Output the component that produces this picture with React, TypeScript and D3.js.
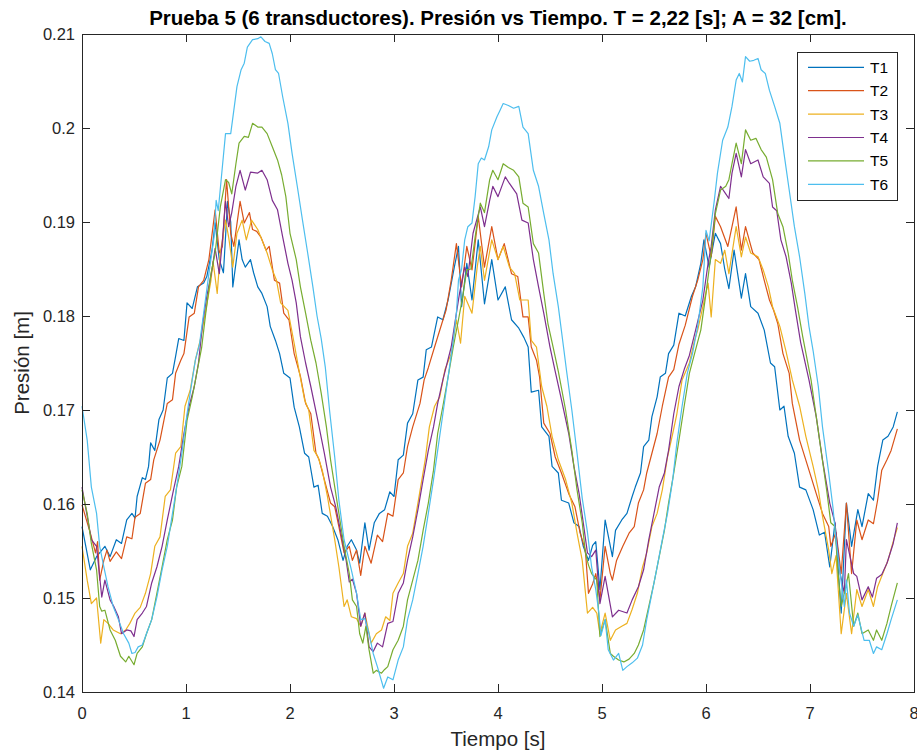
import React from "react";
import * as d3 from "d3";

// Pressure readings (m) from six transducers, sampled as [time (s), pressure (m)]
const T1: [number, number][] = [
  [0,0.1576],[0.08,0.153],[0.14,0.1544],[0.22,0.1555],[0.27,0.1544],[0.33,0.1562],[0.38,0.1558],[0.43,0.1583],[0.48,0.159],[0.51,0.1585],[0.53,0.1608],[0.58,0.1628],[0.61,0.1626],[0.64,0.164],[0.66,0.1665],[0.70,0.1657],[0.74,0.169],[0.78,0.170],[0.82,0.1734],[0.87,0.1739],[0.90,0.1757],[0.93,0.1776],[0.98,0.1774],[1.01,0.1814],[1.06,0.1808],[1.11,0.1831],[1.17,0.1835],[1.20,0.1842],[1.25,0.187],[1.28,0.1899],[1.32,0.186],[1.36,0.1846],[1.40,0.1922],[1.43,0.190],[1.45,0.1831],[1.48,0.1856],[1.51,0.1881],[1.54,0.186],[1.57,0.1852],[1.62,0.186],[1.65,0.1846],[1.69,0.1831],[1.73,0.1824],[1.78,0.181],[1.81,0.1789],[1.86,0.1774],[1.90,0.176],[1.94,0.1739],[2.0,0.1734],[2.04,0.1703],[2.09,0.1682],[2.14,0.1654],[2.18,0.165],[2.23,0.1618],[2.27,0.1620],[2.31,0.159],[2.36,0.1587],[2.41,0.1576],[2.46,0.1562],[2.51,0.154],[2.55,0.1555],[2.59,0.1562],[2.64,0.1551],[2.67,0.1537],[2.72,0.158],[2.76,0.1551],[2.81,0.158],[2.86,0.159],[2.91,0.1594],[2.96,0.1613],[3.0,0.1608],[3.04,0.1647],[3.09,0.1652],[3.13,0.1686],[3.18,0.1696],[3.23,0.1732],[3.28,0.1735],[3.31,0.1764],[3.36,0.1767],[3.42,0.1799],[3.47,0.1796],[3.52,0.1817],[3.58,0.1852],[3.62,0.1874],[3.65,0.181],[3.70,0.1856],[3.75,0.1817],[3.81,0.1881],[3.87,0.1813],[3.94,0.186],[4.0,0.1817],[4.07,0.1831],[4.13,0.1796],[4.20,0.1787],[4.25,0.1777],[4.29,0.1767],[4.32,0.1719],[4.39,0.1721],[4.42,0.1682],[4.49,0.1672],[4.52,0.164],[4.58,0.1633],[4.61,0.1604],[4.68,0.1601],[4.73,0.158],[4.78,0.1576],[4.82,0.1555],[4.87,0.154],[4.91,0.1556],[4.94,0.156],[4.98,0.1509],[5.03,0.1583],[5.1,0.1544],[5.13,0.1572],[5.19,0.1583],[5.24,0.159],[5.29,0.1608],[5.32,0.1618],[5.37,0.1633],[5.40,0.1661],[5.45,0.1668],[5.48,0.1693],[5.53,0.1714],[5.56,0.1735],[5.61,0.1739],[5.64,0.176],[5.69,0.1769],[5.74,0.1803],[5.80,0.1800],[5.86,0.1821],[5.90,0.1831],[5.95,0.1856],[5.98,0.1881],[6.03,0.1852],[6.09,0.1888],[6.14,0.1877],[6.18,0.185],[6.22,0.1829],[6.27,0.187],[6.34,0.1819],[6.38,0.1845],[6.43,0.181],[6.50,0.1803],[6.56,0.1785],[6.62,0.175],[6.66,0.1746],[6.71,0.170],[6.75,0.1704],[6.79,0.1672],[6.85,0.1654],[6.90,0.1618],[6.96,0.1615],[7.03,0.1594],[7.09,0.1567],[7.14,0.157],[7.19,0.1533],[7.24,0.158],[7.30,0.1484],[7.35,0.1601],[7.40,0.1555],[7.46,0.1594],[7.50,0.1576],[7.56,0.1611],[7.61,0.1604],[7.65,0.164],[7.70,0.1668],[7.75,0.1672],[7.80,0.1682],[7.84,0.1698],
];

const T2: [number, number][] = [
  [0,0.1599],[0.08,0.1569],[0.13,0.1548],[0.15,0.156],[0.17,0.1519],[0.21,0.154],[0.24,0.1551],[0.27,0.1539],[0.33,0.1549],[0.38,0.1542],[0.43,0.1565],[0.48,0.1563],[0.51,0.1586],[0.56,0.159],[0.61,0.1622],[0.66,0.1626],[0.69,0.1647],[0.75,0.1668],[0.82,0.1707],[0.87,0.1711],[0.90,0.1739],[0.95,0.1753],[0.98,0.176],[1.03,0.1799],[1.08,0.1803],[1.12,0.1831],[1.17,0.1838],[1.22,0.186],[1.28,0.1913],[1.32,0.1867],[1.35,0.1874],[1.39,0.1945],[1.43,0.1888],[1.46,0.1874],[1.52,0.1922],[1.56,0.1899],[1.61,0.191],[1.64,0.1892],[1.68,0.1890],[1.72,0.1884],[1.77,0.187],[1.80,0.1874],[1.85,0.1838],[1.90,0.1835],[1.94,0.1803],[1.99,0.1796],[2.04,0.176],[2.10,0.1736],[2.15,0.1707],[2.20,0.1696],[2.25,0.1654],[2.28,0.1647],[2.33,0.1626],[2.39,0.1601],[2.43,0.1597],[2.47,0.1576],[2.52,0.1548],[2.57,0.1555],[2.60,0.154],[2.64,0.1551],[2.68,0.1524],[2.72,0.1555],[2.78,0.1537],[2.84,0.1567],[2.89,0.156],[2.94,0.159],[2.99,0.1587],[3.04,0.1626],[3.09,0.1633],[3.13,0.1661],[3.18,0.1682],[3.25,0.1707],[3.29,0.1732],[3.33,0.1745],[3.39,0.1767],[3.46,0.1792],[3.50,0.1806],[3.55,0.1838],[3.60,0.1877],[3.65,0.1831],[3.70,0.1874],[3.75,0.1849],[3.81,0.1906],[3.87,0.1852],[3.94,0.1895],[4.0,0.186],[4.06,0.1877],[4.13,0.1845],[4.19,0.1842],[4.24,0.1799],[4.29,0.1799],[4.32,0.1767],[4.37,0.1753],[4.40,0.1735],[4.44,0.1686],[4.50,0.1675],[4.55,0.165],[4.61,0.1633],[4.68,0.1611],[4.74,0.1597],[4.79,0.1569],[4.84,0.1551],[4.87,0.1505],[4.91,0.1515],[4.94,0.1526],[4.98,0.1498],[5.03,0.1555],[5.08,0.1526],[5.10,0.1519],[5.14,0.154],[5.20,0.1555],[5.26,0.1569],[5.31,0.1576],[5.35,0.1601],[5.40,0.1615],[5.43,0.1633],[5.48,0.1654],[5.53,0.1675],[5.58,0.1704],[5.64,0.1735],[5.69,0.1743],[5.74,0.1770],[5.80,0.1790],[5.87,0.1821],[5.92,0.1838],[5.97,0.186],[6.0,0.1888],[6.05,0.1863],[6.09,0.1906],[6.14,0.1895],[6.21,0.1874],[6.29,0.1916],[6.34,0.187],[6.38,0.1895],[6.45,0.1867],[6.51,0.186],[6.56,0.1838],[6.61,0.1817],[6.65,0.1806],[6.69,0.1792],[6.74,0.1760],[6.80,0.1739],[6.83,0.1707],[6.90,0.1668],[6.99,0.1636],[7.06,0.1611],[7.12,0.159],[7.18,0.1576],[7.20,0.1555],[7.25,0.157],[7.30,0.1526],[7.35,0.1601],[7.40,0.1526],[7.45,0.1583],[7.50,0.1562],[7.56,0.1583],[7.61,0.1579],[7.65,0.1604],[7.69,0.1636],[7.74,0.1647],[7.78,0.1657],[7.84,0.168],
];

const T3: [number, number][] = [
  [0,0.1555],[0.05,0.1519],[0.09,0.1494],[0.14,0.150],[0.18,0.1452],[0.21,0.1477],[0.25,0.1473],[0.30,0.1466],[0.37,0.1462],[0.42,0.1466],[0.46,0.1473],[0.51,0.1484],[0.56,0.1490],[0.61,0.1505],[0.66,0.1526],[0.70,0.1555],[0.75,0.1565],[0.80,0.1608],[0.85,0.1615],[0.90,0.1654],[0.95,0.1661],[0.99,0.1704],[1.04,0.1721],[1.09,0.1753],[1.14,0.1776],[1.19,0.1806],[1.24,0.1838],[1.26,0.1858],[1.30,0.1824],[1.33,0.1867],[1.38,0.1902],[1.41,0.1884],[1.45,0.1852],[1.49,0.1888],[1.54,0.1902],[1.58,0.1881],[1.63,0.1902],[1.69,0.1892],[1.73,0.1881],[1.78,0.1867],[1.83,0.1849],[1.87,0.1838],[1.91,0.1814],[1.98,0.1806],[2.04,0.1771],[2.09,0.1740],[2.14,0.1711],[2.18,0.170],[2.23,0.1657],[2.27,0.1650],[2.31,0.1636],[2.36,0.1608],[2.43,0.1562],[2.47,0.1533],[2.52,0.1491],[2.55,0.1498],[2.59,0.148],[2.64,0.1478],[2.68,0.147],[2.72,0.1484],[2.78,0.1452],[2.83,0.1462],[2.88,0.1466],[2.92,0.148],[2.96,0.1476],[2.99,0.1505],[3.04,0.1516],[3.09,0.1526],[3.13,0.1555],[3.18,0.1569],[3.23,0.1601],[3.30,0.1647],[3.34,0.1682],[3.39,0.1704],[3.44,0.1714],[3.49,0.1743],[3.55,0.176],[3.60,0.1796],[3.64,0.1771],[3.68,0.1821],[3.75,0.1803],[3.80,0.1852],[3.83,0.1874],[3.87,0.1838],[3.94,0.1881],[4.0,0.186],[4.05,0.1874],[4.11,0.1852],[4.16,0.1845],[4.21,0.1817],[4.29,0.1817],[4.32,0.1774],[4.37,0.1767],[4.42,0.1725],[4.47,0.1704],[4.52,0.1672],[4.58,0.1647],[4.65,0.1626],[4.71,0.1601],[4.76,0.1569],[4.81,0.154],[4.86,0.1484],[4.91,0.1490],[4.95,0.1484],[4.98,0.1462],[5.03,0.1484],[5.08,0.1455],[5.13,0.1466],[5.19,0.147],[5.24,0.1473],[5.29,0.1488],[5.34,0.1505],[5.39,0.1533],[5.43,0.1548],[5.48,0.1576],[5.53,0.159],[5.58,0.1615],[5.63,0.165],[5.68,0.1675],[5.72,0.1696],[5.77,0.1732],[5.84,0.175],[5.89,0.1774],[5.92,0.1785],[5.97,0.181],[6.02,0.1835],[6.05,0.1799],[6.09,0.186],[6.14,0.1856],[6.18,0.187],[6.22,0.1845],[6.29,0.1895],[6.34,0.1863],[6.38,0.1884],[6.43,0.1867],[6.50,0.1863],[6.55,0.1849],[6.60,0.1831],[6.64,0.181],[6.71,0.1789],[6.77,0.1762],[6.83,0.1732],[6.90,0.1704],[6.96,0.1672],[7.03,0.164],[7.08,0.1615],[7.12,0.1587],[7.18,0.1551],[7.21,0.1526],[7.25,0.1545],[7.30,0.1462],[7.35,0.1505],[7.40,0.1462],[7.45,0.1509],[7.50,0.1491],[7.56,0.1509],[7.61,0.1491],[7.65,0.1512],[7.70,0.1526],[7.75,0.154],[7.80,0.1560],[7.84,0.1575],
];

const T4: [number, number][] = [
  [0,0.1618],[0.05,0.1587],[0.09,0.1562],[0.14,0.1555],[0.19,0.1501],[0.22,0.1519],[0.27,0.1498],[0.31,0.1490],[0.35,0.148],[0.38,0.1462],[0.43,0.1466],[0.47,0.1465],[0.50,0.1459],[0.53,0.1477],[0.58,0.1484],[0.62,0.1491],[0.67,0.1516],[0.72,0.1533],[0.77,0.1555],[0.82,0.1583],[0.88,0.1615],[0.93,0.164],[0.98,0.1675],[1.03,0.1704],[1.08,0.1725],[1.12,0.175],[1.16,0.1792],[1.20,0.1821],[1.25,0.1849],[1.28,0.1872],[1.32,0.1845],[1.35,0.1880],[1.38,0.1922],[1.41,0.1895],[1.44,0.191],[1.48,0.1938],[1.52,0.1955],[1.57,0.1934],[1.62,0.1953],[1.69,0.1952],[1.73,0.1955],[1.78,0.1945],[1.83,0.1923],[1.88,0.1913],[1.93,0.1884],[1.98,0.1856],[2.02,0.1838],[2.06,0.1814],[2.10,0.1778],[2.15,0.1750],[2.20,0.1725],[2.26,0.1693],[2.33,0.1654],[2.39,0.1618],[2.44,0.1597],[2.49,0.1569],[2.54,0.154],[2.57,0.1517],[2.60,0.1520],[2.64,0.1505],[2.68,0.147],[2.72,0.1484],[2.76,0.1448],[2.80,0.1443],[2.84,0.1452],[2.89,0.1448],[2.94,0.1473],[2.99,0.1475],[3.04,0.1505],[3.09,0.1516],[3.13,0.154],[3.18,0.1565],[3.23,0.1594],[3.28,0.1626],[3.33,0.1657],[3.38,0.1682],[3.42,0.1707],[3.47,0.1732],[3.55,0.1767],[3.60,0.1803],[3.63,0.1824],[3.68,0.1852],[3.71,0.1842],[3.76,0.1888],[3.83,0.1916],[3.87,0.1895],[3.92,0.1923],[3.95,0.1938],[4.0,0.1927],[4.07,0.1948],[4.11,0.1941],[4.18,0.193],[4.23,0.1902],[4.29,0.1899],[4.34,0.186],[4.39,0.1831],[4.44,0.1803],[4.50,0.1767],[4.55,0.1741],[4.61,0.1711],[4.68,0.1675],[4.73,0.164],[4.78,0.1611],[4.82,0.1580],[4.86,0.1548],[4.90,0.1544],[4.94,0.1551],[4.98,0.1494],[5.03,0.1523],[5.10,0.148],[5.16,0.1487],[5.24,0.1484],[5.29,0.1498],[5.35,0.1512],[5.40,0.153],[5.45,0.1562],[5.50,0.159],[5.55,0.1618],[5.60,0.1633],[5.64,0.1657],[5.69,0.1696],[5.74,0.1725],[5.79,0.1743],[5.84,0.1758],[5.90,0.1785],[5.97,0.1817],[6.02,0.1856],[6.05,0.1874],[6.09,0.1913],[6.14,0.1938],[6.19,0.193],[6.22,0.1925],[6.25,0.1952],[6.29,0.1973],[6.34,0.1948],[6.38,0.1977],[6.43,0.1962],[6.50,0.1966],[6.55,0.1948],[6.61,0.1941],[6.64,0.1916],[6.68,0.1912],[6.72,0.1881],[6.77,0.1863],[6.82,0.1835],[6.86,0.1806],[6.91,0.1772],[6.99,0.1732],[7.06,0.1693],[7.12,0.1647],[7.19,0.1601],[7.24,0.158],[7.29,0.1526],[7.33,0.1505],[7.35,0.1562],[7.42,0.1526],[7.45,0.1523],[7.50,0.1498],[7.56,0.1512],[7.60,0.1501],[7.64,0.1521],[7.69,0.1525],[7.74,0.1537],[7.80,0.1558],[7.84,0.158],
];

const T5: [number, number][] = [
  [0,0.1615],[0.05,0.159],[0.09,0.1558],[0.14,0.153],[0.17,0.1491],[0.19,0.1486],[0.22,0.1487],[0.27,0.1466],[0.32,0.1455],[0.37,0.1438],[0.42,0.1432],[0.45,0.1438],[0.50,0.1429],[0.53,0.1441],[0.58,0.1448],[0.62,0.1462],[0.67,0.1477],[0.72,0.1505],[0.77,0.1533],[0.82,0.1562],[0.87,0.1583],[0.91,0.1618],[0.96,0.164],[1.01,0.1689],[1.06,0.1714],[1.11,0.1743],[1.15,0.1766],[1.19,0.1803],[1.24,0.1845],[1.28,0.1867],[1.33,0.1916],[1.38,0.1945],[1.41,0.1942],[1.44,0.193],[1.48,0.1962],[1.51,0.1984],[1.56,0.1991],[1.60,0.1990],[1.64,0.2005],[1.69,0.2001],[1.73,0.2001],[1.78,0.1994],[1.83,0.198],[1.88,0.1966],[1.92,0.1950],[1.96,0.1927],[2.0,0.1888],[2.06,0.186],[2.10,0.1831],[2.15,0.1803],[2.20,0.1774],[2.25,0.1750],[2.30,0.1718],[2.35,0.1682],[2.39,0.1647],[2.46,0.1597],[2.52,0.1555],[2.57,0.1526],[2.60,0.1498],[2.64,0.1491],[2.67,0.1462],[2.70,0.1452],[2.73,0.147],[2.76,0.1445],[2.80,0.142],[2.83,0.1423],[2.88,0.142],[2.91,0.1424],[2.94,0.1427],[2.99,0.1445],[3.04,0.1455],[3.09,0.147],[3.13,0.1498],[3.18,0.1519],[3.23,0.154],[3.28,0.1572],[3.33,0.1601],[3.38,0.1636],[3.42,0.1675],[3.47,0.1704],[3.52,0.1735],[3.57,0.1767],[3.62,0.1796],[3.66,0.1820],[3.70,0.1849],[3.74,0.1850],[3.78,0.1884],[3.83,0.192],[3.87,0.191],[3.92,0.1945],[3.95,0.1955],[4.0,0.1945],[4.05,0.1962],[4.10,0.1958],[4.15,0.1955],[4.20,0.1948],[4.24,0.192],[4.29,0.1916],[4.34,0.1877],[4.39,0.1867],[4.44,0.1824],[4.48,0.1792],[4.53,0.1767],[4.58,0.1741],[4.65,0.170],[4.71,0.1657],[4.76,0.1615],[4.81,0.158],[4.84,0.1548],[4.87,0.1535],[4.90,0.1526],[4.95,0.1519],[4.98,0.1459],[5.03,0.1477],[5.08,0.1441],[5.11,0.1438],[5.16,0.1434],[5.21,0.1432],[5.26,0.1435],[5.31,0.1441],[5.35,0.145],[5.40,0.1466],[5.45,0.1491],[5.50,0.1516],[5.55,0.1544],[5.60,0.1572],[5.64,0.1601],[5.69,0.1633],[5.74,0.1668],[5.79,0.1704],[5.84,0.1739],[5.89,0.1760],[5.95,0.1785],[6.0,0.1824],[6.05,0.1867],[6.09,0.1909],[6.14,0.1934],[6.19,0.1938],[6.22,0.1945],[6.25,0.1962],[6.29,0.1984],[6.34,0.1962],[6.38,0.1998],[6.43,0.1987],[6.48,0.1989],[6.53,0.1977],[6.58,0.1969],[6.64,0.1945],[6.69,0.1909],[6.74,0.1895],[6.79,0.1867],[6.83,0.1838],[6.88,0.181],[6.93,0.1778],[7.01,0.1732],[7.06,0.1693],[7.11,0.1654],[7.16,0.1615],[7.20,0.158],[7.24,0.1576],[7.27,0.1526],[7.30,0.1491],[7.34,0.151],[7.37,0.1526],[7.42,0.147],[7.46,0.1484],[7.50,0.1462],[7.56,0.1466],[7.61,0.1455],[7.64,0.1466],[7.69,0.1455],[7.74,0.1473],[7.78,0.1491],[7.84,0.1516],
];

const T6: [number, number][] = [
  [0,0.1704],[0.05,0.1668],[0.09,0.1618],[0.14,0.159],[0.17,0.1555],[0.21,0.1533],[0.25,0.1512],[0.30,0.1491],[0.35,0.1477],[0.40,0.1462],[0.45,0.1452],[0.48,0.1441],[0.51,0.1442],[0.54,0.1448],[0.58,0.1450],[0.62,0.1462],[0.67,0.1477],[0.72,0.1501],[0.77,0.153],[0.82,0.1555],[0.87,0.159],[0.91,0.1618],[0.96,0.1654],[1.01,0.1696],[1.06,0.1732],[1.09,0.1753],[1.13,0.1770],[1.17,0.1803],[1.22,0.1845],[1.27,0.1884],[1.29,0.1923],[1.31,0.1912],[1.35,0.1959],[1.38,0.1994],[1.43,0.1994],[1.46,0.2019],[1.49,0.2044],[1.53,0.2062],[1.56,0.2069],[1.59,0.2086],[1.64,0.2094],[1.69,0.2095],[1.72,0.2097],[1.76,0.2092],[1.80,0.209],[1.83,0.2079],[1.86,0.2062],[1.89,0.2058],[1.93,0.2033],[1.98,0.2005],[2.02,0.1973],[2.07,0.1938],[2.12,0.1902],[2.17,0.1867],[2.22,0.1831],[2.26,0.1800],[2.30,0.1776],[2.34,0.1745],[2.38,0.170],[2.43,0.165],[2.47,0.1604],[2.52,0.1562],[2.59,0.153],[2.64,0.1505],[2.68,0.1477],[2.72,0.1478],[2.76,0.1462],[2.80,0.1441],[2.84,0.1427],[2.90,0.1404],[2.94,0.1416],[2.99,0.1413],[3.04,0.1434],[3.09,0.1448],[3.13,0.1477],[3.18,0.1498],[3.23,0.1526],[3.28,0.1555],[3.33,0.159],[3.38,0.1626],[3.42,0.1657],[3.47,0.1696],[3.52,0.1735],[3.57,0.1774],[3.60,0.1803],[3.62,0.1838],[3.65,0.1850],[3.68,0.1881],[3.71,0.1895],[3.75,0.1899],[3.78,0.1927],[3.81,0.1962],[3.84,0.1968],[3.87,0.1966],[3.91,0.198],[3.94,0.1998],[3.99,0.2012],[4.02,0.2019],[4.05,0.2026],[4.10,0.2024],[4.15,0.2021],[4.20,0.2023],[4.24,0.2001],[4.29,0.1994],[4.34,0.1955],[4.39,0.1938],[4.44,0.1909],[4.49,0.1881],[4.53,0.1845],[4.58,0.181],[4.63,0.1767],[4.66,0.1741],[4.71,0.170],[4.76,0.1654],[4.81,0.1606],[4.86,0.157],[4.90,0.1533],[4.94,0.1509],[4.97,0.1484],[4.99,0.1460],[5.03,0.1477],[5.06,0.1445],[5.11,0.1434],[5.16,0.1441],[5.20,0.1423],[5.24,0.1427],[5.29,0.1431],[5.34,0.1436],[5.39,0.145],[5.43,0.1477],[5.48,0.1505],[5.53,0.1533],[5.58,0.1562],[5.63,0.159],[5.68,0.1626],[5.72,0.1665],[5.77,0.1704],[5.82,0.1739],[5.87,0.1760],[5.92,0.1789],[5.97,0.1831],[6.0,0.1891],[6.03,0.1880],[6.08,0.1923],[6.11,0.1952],[6.16,0.1987],[6.21,0.2001],[6.25,0.2023],[6.29,0.2051],[6.32,0.2058],[6.35,0.2049],[6.38,0.2076],[6.42,0.2071],[6.46,0.2072],[6.50,0.2074],[6.53,0.2062],[6.57,0.2058],[6.61,0.204],[6.66,0.2023],[6.71,0.2005],[6.75,0.1973],[6.80,0.1934],[6.85,0.1895],[6.90,0.1863],[6.95,0.1824],[6.99,0.1789],[7.03,0.1763],[7.08,0.1725],[7.12,0.1682],[7.18,0.1633],[7.22,0.1597],[7.25,0.1562],[7.29,0.1526],[7.33,0.1491],[7.35,0.1519],[7.38,0.1484],[7.42,0.147],[7.46,0.1482],[7.52,0.1455],[7.57,0.1455],[7.61,0.1441],[7.64,0.1448],[7.69,0.1445],[7.74,0.1462],[7.78,0.1477],[7.84,0.1498],
];

const seriesNames = ["T1", "T2", "T3", "T4", "T5", "T6"];
const seriesData = [T1, T2, T3, T4, T5, T6];
const seriesColors = ["#0072BD", "#D95319", "#EDB120", "#7E2F8E", "#77AC30", "#4DBEEE"];

const xTicks = [0, 1, 2, 3, 4, 5, 6, 7, 8];
const yTicks = [0.14, 0.15, 0.16, 0.17, 0.18, 0.19, 0.2, 0.21];
const yTickLabels = ["0.14", "0.15", "0.16", "0.17", "0.18", "0.19", "0.2", "0.21"];

const W = 917;
const H = 755;
const plot = { left: 82, right: 914, top: 34, bottom: 692 };
const axisColor = "#262626";
const font = "'Liberation Sans', Arial, Helvetica, sans-serif";
const tickLen = 8;

export default function App() {
  const x = d3.scaleLinear().domain([0, 8]).range([plot.left, plot.right]);
  const y = d3.scaleLinear().domain([0.14, 0.21]).range([plot.bottom, plot.top]);
  const line = d3
    .line<[number, number]>()
    .x((d) => x(d[0]))
    .y((d) => y(d[1]));

  const legend = { x: 797, y: 52.5, w: 100, h: 147.5, rowH: 23.4, firstRow: 67.3 };

  return (
    <svg
      width={W}
      height={H}
      viewBox={`0 0 ${W} ${H}`}
      style={{ position: "absolute", left: 0, top: 0, background: "#fff" }}
    >
      <rect x={0} y={0} width={W} height={H} fill="#fff" />

      {/* data lines */}
      <g fill="none" strokeWidth={1.2} strokeLinejoin="round">
        {seriesData.map((d, i) => (
          <path key={seriesNames[i]} d={line(d) || ""} stroke={seriesColors[i]} />
        ))}
      </g>

      {/* axes box with inward ticks on all sides */}
      <g stroke={axisColor} strokeWidth={1} fill="none" shapeRendering="crispEdges">
        <rect
          x={plot.left}
          y={plot.top}
          width={plot.right - plot.left}
          height={plot.bottom - plot.top}
        />
        {xTicks.map((t) => (
          <g key={"xt" + t}>
            <line x1={x(t)} x2={x(t)} y1={plot.bottom} y2={plot.bottom - tickLen} />
            <line x1={x(t)} x2={x(t)} y1={plot.top} y2={plot.top + tickLen} />
          </g>
        ))}
        {yTicks.map((v) => (
          <g key={"yt" + v}>
            <line x1={plot.left} x2={plot.left + tickLen} y1={y(v)} y2={y(v)} />
            <line x1={plot.right} x2={plot.right - tickLen} y1={y(v)} y2={y(v)} />
          </g>
        ))}
      </g>

      {/* tick labels */}
      <g fontFamily={font} fontSize={16.5} fill={axisColor}>
        {xTicks.map((t) => (
          <text key={"xl" + t} x={x(t)} y={plot.bottom + 27} textAnchor="middle">
            {t}
          </text>
        ))}
        {yTicks.map((v, i) => (
          <text key={"yl" + v} x={plot.left - 7} y={y(v) + 5.5} textAnchor="end">
            {yTickLabels[i]}
          </text>
        ))}
      </g>

      {/* axis labels and title */}
      <text
        x={(plot.left + plot.right) / 2}
        y={746}
        textAnchor="middle"
        fontFamily={font}
        fontSize={20.5}
        fill={axisColor}
      >
        Tiempo [s]
      </text>
      <text
        transform={`translate(29, ${(plot.top + plot.bottom) / 2}) rotate(-90)`}
        textAnchor="middle"
        fontFamily={font}
        fontSize={20.5}
        fill={axisColor}
      >
        Presión [m]
      </text>
      <text
        x={(plot.left + plot.right) / 2}
        y={25}
        textAnchor="middle"
        fontFamily={font}
        fontSize={20.5}
        fontWeight="bold"
        fill="#000"
      >
        Prueba 5 (6 transductores). Presión vs Tiempo. T = 2,22 [s]; A = 32 [cm].
      </text>

      {/* legend */}
      <g>
        <rect
          x={legend.x}
          y={legend.y}
          width={legend.w}
          height={legend.h}
          fill="#fff"
          stroke={axisColor}
          strokeWidth={1}
          shapeRendering="crispEdges"
        />
        {seriesNames.map((name, i) => {
          const cy = legend.firstRow + i * legend.rowH;
          return (
            <g key={"lg" + name}>
              <line x1={808} x2={864} y1={cy} y2={cy} stroke={seriesColors[i]} strokeWidth={1.2} />
              <text x={870} y={cy + 5.5} fontFamily={font} fontSize={15.5} fill="#000">
                {name}
              </text>
            </g>
          );
        })}
      </g>
    </svg>
  );
}
